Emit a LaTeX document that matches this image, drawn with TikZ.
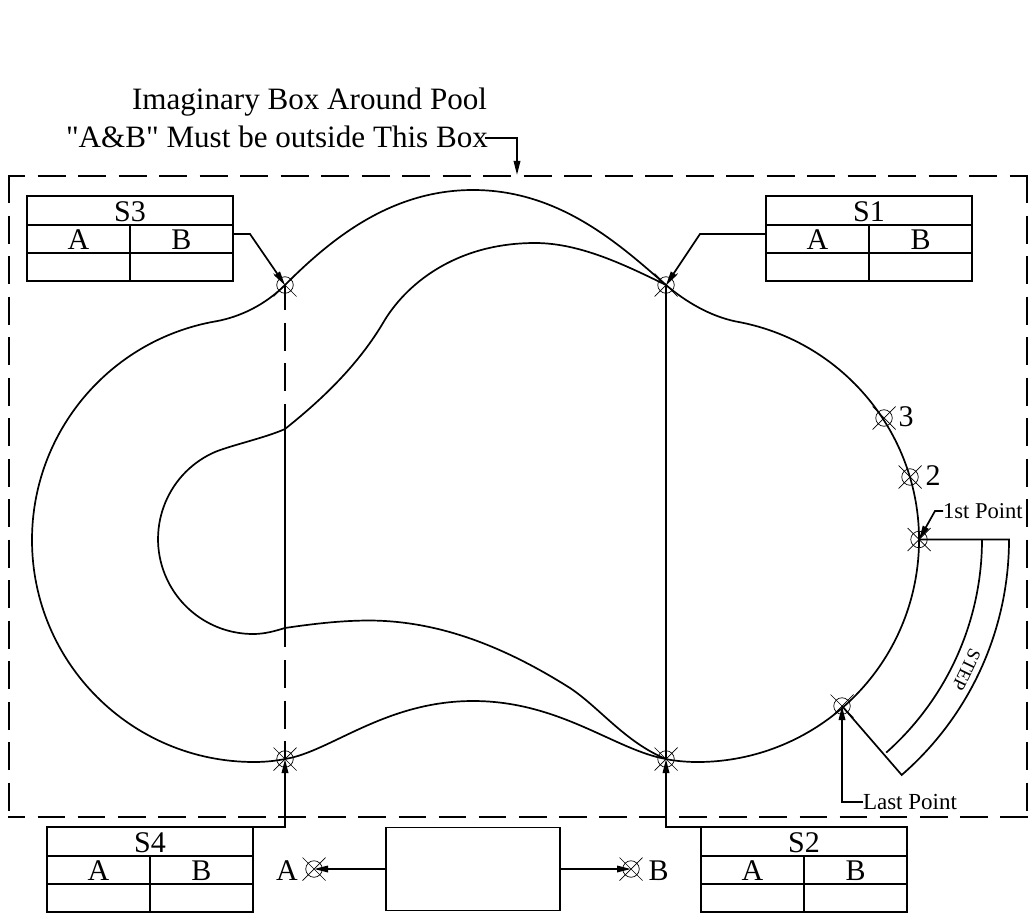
\documentclass[tikz,border=0pt]{standalone}
\usepackage{fontspec}
\setmainfont{Liberation Serif}
\newfontfamily\plainserif{Liberation Serif}
\usetikzlibrary{arrows.meta}
\tikzset{
  ln/.style={line width=1.7pt,line join=miter},
  longdash/.style={ln,dash pattern=on 28pt off 12.5pt},
  arr/.style={ln,-{Stealth[length=14pt,width=6.5pt,inset=0pt]}},
  big/.style={font=\fontsize{30}{30}\selectfont,inner sep=0pt,outer sep=0pt},
  mid/.style={font=\fontsize{23}{23}\selectfont,inner sep=0pt,outer sep=0pt},
  title/.style={font=\plainserif\fontsize{31.1}{38}\selectfont,inner sep=0pt,outer sep=0pt},
  mk/.style={circle,draw,line width=0.7pt,minimum size=16.5pt,inner sep=0pt,outer sep=0pt},
  tb/.style={draw,ln,rectangle,inner sep=0pt,outer sep=0pt,minimum width=206pt,minimum height=85pt},
  bxstyle/.style={draw,ln,rectangle,inner sep=0pt,outer sep=0pt,minimum width=174pt,minimum height=83pt}
}
% \mymark{name}{x}{y}
\newcommand{\mymark}[3]{%
  \node[mk] (#1) at (#2,#3) {};
  \draw[line width=0.7pt] (#2-11.5,#3-11.5) -- (#2+11.5,#3+11.5) (#2-11.5,#3+11.5) -- (#2+11.5,#3-11.5);
}
% \mytable{name}{left x}{top y}{title}
\newcommand{\mytable}[4]{%
  \node[tb] (#1) at (#2+103,#3+42.5) {};
  \draw[ln] (#2,#3+29) -- (#2+206,#3+29) (#2,#3+57) -- (#2+206,#3+57) (#2+103,#3+29) -- (#2+103,#3+85);
  \node[big,anchor=base] (#1t) at (#2+103,#3+25) {#4};
  \node[big,anchor=base] (#1a) at (#2+51.5,#3+53) {A};
  \node[big,anchor=base] (#1b) at (#2+154.5,#3+53) {B};
}
\begin{document}
\begin{tikzpicture}[yscale=-1,x=1pt,y=1pt]
\useasboundingbox (0,0) rectangle (1036,923);
\fill[white] (0,0) rectangle (1036,923);
% imaginary box
\draw[longdash,dash phase=11pt] (8.2,176) -- (1027.8,176);
\draw[longdash] (9,175.2) -- (9,817.8);
\draw[longdash] (1027,175.2) -- (1027,817.8);
\draw[ln,dash pattern=on 27.7pt off 12.4pt,dash phase=10.7pt] (8.2,817) -- (1027.8,817);
% outer pool outline
\draw[ln] (215.45,321.4) .. controls (240,317) and (265,305) .. (285,285)
  .. controls (330,240) and (390,190) .. (473,190)
  .. controls (560,190) and (620,245) .. (666,285)
  .. controls (686,302) and (710,316) .. (735.55,321.4)
  arc[start angle=280,end angle=450,radius=222pt]
  .. controls (685,762) and (672,760.5) .. (666,759)
  .. controls (615,750) and (560,701) .. (473,701)
  .. controls (385,701) and (330,752) .. (285,759)
  .. controls (275,761) and (265,762) .. (254,762)
  arc[start angle=90,end angle=260,radius=222pt] -- cycle;
% inner deep line
\draw[ln] (666,285) .. controls (625,265) and (580,243) .. (535,243)
  .. controls (455,243) and (405,285) .. (383,323)
  .. controls (355,370) and (315,405) .. (285,429)
  .. controls (265,438) and (228,446) .. (212.9,452.9)
  arc[start angle=245,end angle=90,radius=95pt]
  .. controls (265,634) and (275,631) .. (285,628)
  .. controls (325,622) and (350,620.5) .. (370,620.5)
  .. controls (440,621) and (505,647) .. (570,688)
  .. controls (600,708) and (625,742) .. (666,759);
% section marks
\mymark{p3}{285}{285}
\mymark{p1}{666}{285}
\mymark{p4}{285}{759}
\mymark{p2}{666}{759}
\mymark{m3}{884}{418}
\mymark{m2}{910}{477}
\mymark{first}{919}{539.5}
\mymark{last}{842}{706}
\mymark{ma}{314}{869}
\mymark{mb}{631}{869}
\draw[ln] (p1.center) -- (p2.center);
\draw[longdash,dash phase=3pt] (p3.center) -- (285,392);
\draw[ln] (285,404) -- (285,647);
\draw[longdash] (285,660) -- (p4.center);
% step
\draw[ln] (first.center) -- (1009,539.5)
  arc[start angle=0,end angle=49,radius=312pt] -- (last.center);
\draw[ln] (982,539.5) arc[start angle=0,end angle=48.4,radius=285pt];
\node[font=\fontsize{18.5}{18.5}\selectfont,inner sep=0pt,rotate=-115.7] (steplabel) at (966.5,670) {STEP};
% tables
\mytable{s3}{27}{196}{S3}
\mytable{s1}{766}{196}{S1}
\mytable{s4}{47}{827}{S4}
\mytable{s2}{701}{827}{S2}
\coordinate (s3out) at (233,234);
\coordinate (s1out) at (766,234);
\draw[arr] (s3out) -- (250,234) -- (p3.center);
\draw[arr] (s1out) -- (700,234) -- (p1.center);
\draw[arr] (s4.north east) -- (285,827) -- (p4.center);
\draw[arr] (s2.north west) -- (666,827) -- (p2.center);
% box
\node[bxstyle] (bx) at (473,869) {};
\draw[arr] (bx.west) -- (ma.center);
\draw[arr] (bx.east) -- (mb.center);
\node[big,anchor=base] (la) at (287,880) {A};
\node[big,anchor=base] (lb) at (658.5,880) {B};
\node[big,anchor=base] (l3) at (906,426) {3};
\node[big,anchor=base] (l2) at (933,485) {2};
% labels
\node[mid,anchor=base west,font=\fontsize{22.6}{23}\selectfont] (t1st) at (943,518) {1st Point};
\coordinate (t1out) at (943,511);
\draw[arr] (t1out) -- (935,511) -- (first.center);
\node[mid,anchor=base west] (tlast) at (863,809) {Last Point};
\coordinate (tlout) at (863,802);
\draw[arr] (tlout) -- (842,802) -- (last.center);
\node[title,anchor=base west] (tit1) at (132,110) {Imaginary Box Around Pool};
\node[title,anchor=base west] (tit2) at (66,147) {"A\&B" Must be outside This Box};
\coordinate (titout) at (485,138);
\coordinate (boxtop) at (517,175);
\draw[arr] (titout) -- (517,138) -- (boxtop);
\end{tikzpicture}
\end{document}
